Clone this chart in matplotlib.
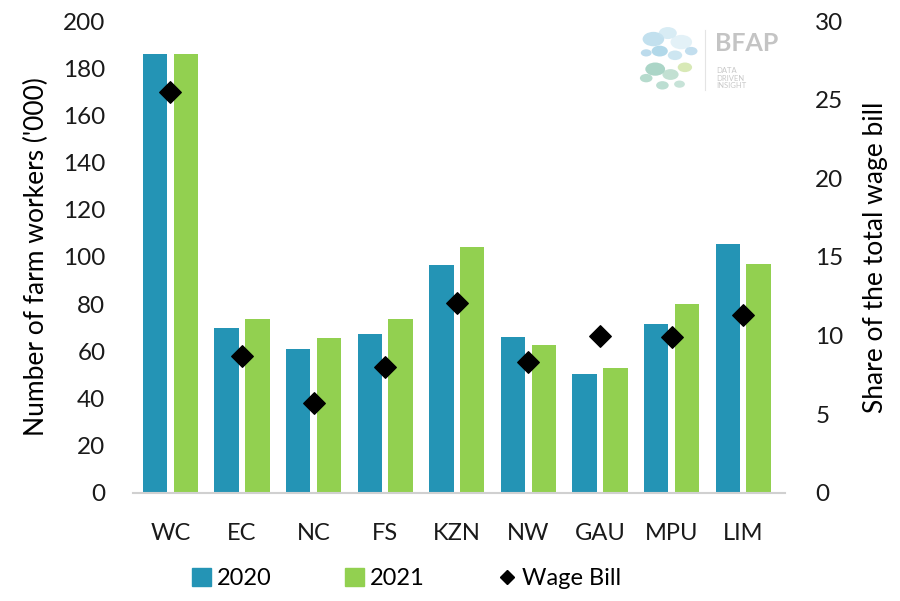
import numpy as np
import matplotlib
matplotlib.use('Agg')
import matplotlib.pyplot as plt
from matplotlib.lines import Line2D
from matplotlib.patches import Patch, Circle

plt.rcParams['font.family'] = ['Lato', 'DejaVu Sans']

# Data
provinces = ['WC', 'EC', 'NC', 'FS', 'KZN', 'NW', 'GAU', 'MPU', 'LIM']
workers_2020 = [186, 70, 61, 67.5, 96.5, 66, 50.5, 71.5, 105.5]
workers_2021 = [186, 73.5, 65.5, 73.5, 104, 62.5, 53, 80, 97]
wage_bill = [25.5, 8.7, 5.7, 8.0, 12.1, 8.3, 10.0, 9.9, 11.3]

blue = '#2494B5'
green = '#92D050'

fig = plt.figure(figsize=(9, 6.01), dpi=100)
ax = fig.add_axes([0.148, 0.18, 0.724, 0.785])
ax2 = ax.twinx()

x = np.arange(len(provinces))
w = 0.34
ax.bar(x - 0.215, workers_2020, w, color=blue, zorder=2)
ax.bar(x + 0.215, workers_2021, w, color=green, zorder=2)
ax2.scatter(x, wage_bill, marker='D', s=120, color='black', zorder=3)

ax.set_xlim(-0.52, len(provinces) - 0.42)
ax.set_ylim(0, 200)
ax.set_yticks(range(0, 201, 20))
ax2.set_ylim(0, 30)
ax2.set_yticks(range(0, 31, 5))

ax.set_xticks(x)
ax.set_xticklabels(provinces)
for a in (ax, ax2):
    for s in a.spines.values():
        s.set_visible(False)
    a.tick_params(length=0, labelsize=17.5, colors='#1a1a1a')
ax.spines['bottom'].set_visible(True)
ax.spines['bottom'].set_color('#d0d0d0')
ax.spines['bottom'].set_linewidth(1.5)
ax.tick_params(axis='x', pad=22, labelsize=17)
ax.tick_params(axis='y', pad=20)
ax2.tick_params(axis='y', pad=22)

ax.set_ylabel("Number of farm workers ('000)", fontsize=19, labelpad=10)
ax2.set_ylabel('Share of the total wage bill', fontsize=19, labelpad=14)

handles = [Patch(color=blue, label='2020'),
           Patch(color=green, label='2021'),
           Line2D([], [], marker='D', color='black', linestyle='none',
                  markersize=7, label='Wage Bill')]
fig.legend(handles=handles, loc='center', bbox_to_anchor=(0.452, 0.037), ncol=3,
           frameon=False, fontsize=17, columnspacing=3.1, handlelength=0.8,
           handleheight=0.8, handletextpad=0.25)

# faint BFAP logo
logo_dots = [(0.726, 0.935, 0.012, '#a8d4e8'), (0.742, 0.945, 0.010, '#c8e4f0'),
             (0.757, 0.930, 0.012, '#d8ecf4'), (0.733, 0.915, 0.009, '#90c8e0'),
             (0.750, 0.908, 0.008, '#b8dcec'), (0.718, 0.912, 0.006, '#a0cce4'),
             (0.768, 0.915, 0.007, '#a8d0e8'), (0.728, 0.885, 0.011, '#88c4b0'),
             (0.745, 0.876, 0.009, '#a8d4c0'), (0.761, 0.888, 0.008, '#c8e098'),
             (0.718, 0.870, 0.007, '#98ccb8'), (0.736, 0.858, 0.007, '#a0d0c0'),
             (0.755, 0.860, 0.006, '#b0d8c8')]
for cx, cy, r, c in logo_dots:
    fig.patches.append(Circle((cx, cy), r, transform=fig.transFigure,
                              color=c, alpha=0.7, lw=0))
fig.add_artist(Line2D([0.783, 0.783], [0.850, 0.950], transform=fig.transFigure,
                      color='#e4e4e4', lw=0.8))
fig.text(0.794, 0.927, 'BFAP', fontsize=18, color='#c4c4c4', fontweight='bold',
         va='center')
fig.text(0.796, 0.870, 'DATA\nDRIVEN\nINSIGHT', fontsize=5.5, color='#c8c8c8',
         va='center', linespacing=1.1)

fig.savefig('out.png', dpi=100)
